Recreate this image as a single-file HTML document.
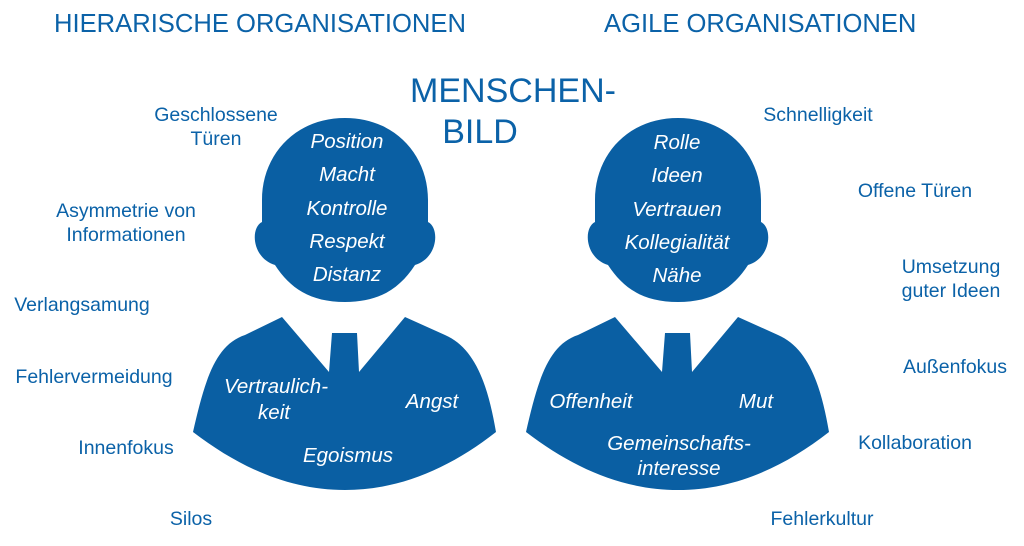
<!DOCTYPE html>
<html><head><meta charset="utf-8"><style>
html,body{margin:0;padding:0;background:#fff;}
svg{display:block;}
text{font-family:"Liberation Sans",Arial,sans-serif;}
.t{fill:#0b62a8;font-size:19.5px;}
.w{fill:#fff;font-size:20.5px;font-style:italic;}
</style></head><body>
<svg width="1024" height="546" viewBox="0 0 1024 546">
<defs>
<g id="fig">
<path fill="#0a5fa3" d="M345,118 C295,118 262,155 262,200 L262,222 C250,228 252,258 275,265 C290,288 310,302 345,302 C380,302 400,288 415,265 C438,258 440,228 428,222 L428,200 C428,155 395,118 345,118 Z"/>
<path fill="#0a5fa3" d="M193,432 C205,380 215,345 245,335 L282,317 L329,372 L332,333 L357,333 L359,372 L405,317 L445,335 C475,348 488,385 496,432 C450,468 400,490 345,490 C290,490 240,468 193,432 Z"/>
</g>
</defs>
<text class="t" x="54" y="32" style="font-size:25.6px">HIERARISCHE ORGANISATIONEN</text>
<text class="t" x="604" y="32" style="font-size:25.6px">AGILE ORGANISATIONEN</text>
<text class="t" x="513" y="102" text-anchor="middle" style="font-size:34px">MENSCHEN-</text>
<text class="t" x="480" y="143" text-anchor="middle" style="font-size:34px">BILD</text>

<use href="#fig"/>
<use href="#fig" x="333"/>

<g class="w" text-anchor="middle">
<text x="347" y="148">Position</text>
<text x="347" y="181">Macht</text>
<text x="347" y="215">Kontrolle</text>
<text x="347" y="248">Respekt</text>
<text x="347" y="281">Distanz</text>
<text x="276" y="393">Vertraulich-</text>
<text x="274" y="419">keit</text>
<text x="432" y="408">Angst</text>
<text x="348" y="462">Egoismus</text>
<text x="677" y="149">Rolle</text>
<text x="677" y="182">Ideen</text>
<text x="677" y="216">Vertrauen</text>
<text x="677" y="249">Kollegialität</text>
<text x="677" y="282">Nähe</text>
<text x="591" y="408">Offenheit</text>
<text x="756" y="408">Mut</text>
<text x="679" y="450">Gemeinschafts-</text>
<text x="679" y="475">interesse</text>
</g>

<g class="t" text-anchor="middle">
<text x="216" y="121">Geschlossene</text>
<text x="216" y="145">Türen</text>
<text x="126" y="217">Asymmetrie von</text>
<text x="126" y="241">Informationen</text>
<text x="82" y="311">Verlangsamung</text>
<text x="94" y="383">Fehlervermeidung</text>
<text x="126" y="454">Innenfokus</text>
<text x="191" y="525">Silos</text>
<text x="818" y="121">Schnelligkeit</text>
<text x="915" y="197">Offene Türen</text>
<text x="951" y="273">Umsetzung</text>
<text x="951" y="297">guter Ideen</text>
<text x="955" y="373">Außenfokus</text>
<text x="915" y="449">Kollaboration</text>
<text x="822" y="525">Fehlerkultur</text>
</g>
</svg>
</body></html>
